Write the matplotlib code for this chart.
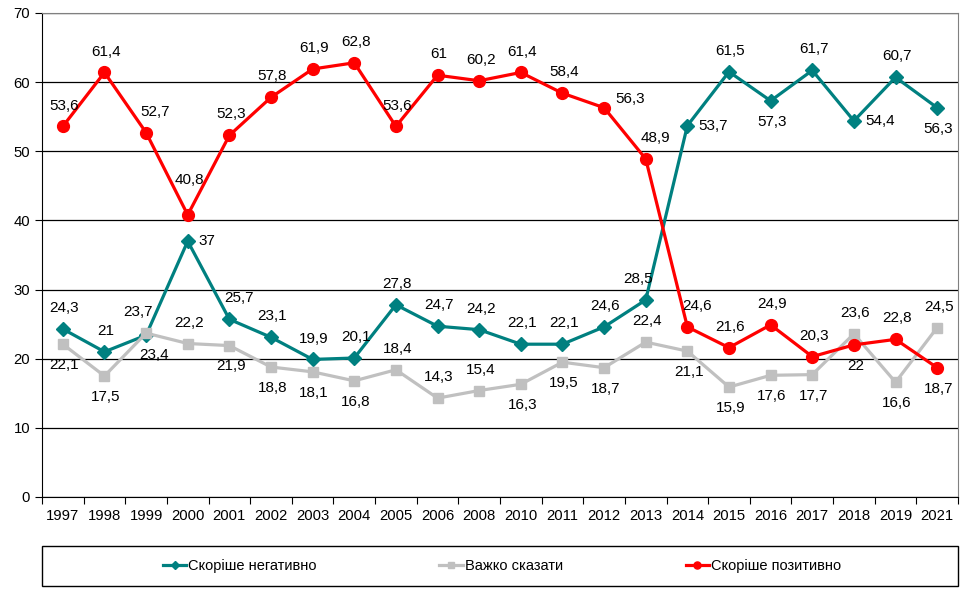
import matplotlib.pyplot as plt
from matplotlib.patches import Rectangle

# Роки опитування
years = ['1997', '1998', '1999', '2000', '2001', '2002', '2003', '2004', '2005', '2006', '2008',
         '2010', '2011', '2012', '2013', '2014', '2015', '2016', '2017', '2018', '2019', '2021']

negative = [24.3, 21, 23.4, 37, 25.7, 23.1, 19.9, 20.1, 27.8, 24.7, 24.2,
            22.1, 22.1, 24.6, 28.5, 53.7, 61.5, 57.3, 61.7, 54.4, 60.7, 56.3]
hard = [22.1, 17.5, 23.7, 22.2, 21.9, 18.8, 18.1, 16.8, 18.4, 14.3, 15.4,
        16.3, 19.5, 18.7, 22.4, 21.1, 15.9, 17.6, 17.7, 23.6, 16.6, 24.5]
positive = [53.6, 61.4, 52.7, 40.8, 52.3, 57.8, 61.9, 62.8, 53.6, 61, 60.2,
            61.4, 58.4, 56.3, 48.9, 24.6, 21.6, 24.9, 20.3, 22, 22.8, 18.7]

# розташування підписів: a - зверху, A - високо зверху, b - знизу, r - праворуч,
# l - ліворуч-зверху, q - праворуч-зверху, p - праворуч трохи вище, y - праворуч-знизу
neg_pos = list('aayrqaaaaaaaaalrabarab')
hard_pos = list('bblabbbbaaabbbabbbbaba')
pos_pos = list('aaqA' + 'aaaaaaaaa' + 'pqqaaabab')

plt.rcParams['font.family'] = ['Liberation Sans', 'DejaVu Sans']

fig = plt.figure(figsize=(9.73, 5.98), dpi=100)
ax = fig.add_axes([42 / 973, 101 / 598, 916 / 973, 484 / 598])

x = list(range(len(years)))
series = [
    ('Скоріше негативно', negative, '#008080', 'D', 7, neg_pos),
    ('Важко сказати', hard, '#C0C0C0', 's', 7, hard_pos),
    ('Скоріше позитивно', positive, '#FF0000', 'o', 8.5, pos_pos),
]

offsets = {'a': (1, 10, 'center', 'bottom'), 'A': (1, 20, 'center', 'bottom'),
           'b': (1, -10, 'center', 'top'), 'r': (8, 0, 'left', 'center'),
           'l': (5, 10, 'right', 'bottom'), 'q': (-4, 10, 'left', 'bottom'),
           'p': (8, 1, 'left', 'bottom'), 'y': (-5, -9, 'left', 'top')}

for name, vals, col, mk, ms, poss in series:
    ax.plot(x, vals, color=col, lw=2.3, marker=mk, ms=ms, label=name, zorder=3)
    for xi, v, p in zip(x, vals, poss):
        dx, dy, ha, va = offsets[p]
        ax.annotate(f'{v:g}'.replace('.', ','), (xi, v), xytext=(dx, dy), textcoords='offset points',
                    ha=ha, va=va, fontsize=11, zorder=4)

ax.set_ylim(0, 70)
ax.set_yticks(range(0, 71, 10))
ax.set_xlim(-0.5, len(years) - 0.5)
ax.set_xticks([i - 0.5 for i in range(len(years) + 1)])
ax.set_xticklabels([])
ax.set_xticks(x, minor=True)
ax.set_xticklabels(years, minor=True)
ax.tick_params(axis='x', which='minor', length=0, pad=9, labelsize=10.7)
ax.tick_params(axis='x', which='major', length=5, direction='out')
ax.tick_params(axis='y', length=5, direction='out', labelsize=10.7)
ax.yaxis.grid(True, color='black', lw=0.9)
ax.set_axisbelow(True)
for s in ['top', 'right']:
    ax.spines[s].set_color('#808080')

# рамка легенди
fig.patches.append(Rectangle((42 / 973, 12 / 598), 916 / 973, 40 / 598, transform=fig.transFigure,
                             fill=False, edgecolor='black', lw=1))
fig.legend(loc='center', bbox_to_anchor=(0.516, 32 / 598), ncol=3, frameon=False,
           prop={'size': 10.5}, handlelength=1.6, handletextpad=0.15, columnspacing=8.4,
           markerscale=0.6)

fig.savefig('out.png', dpi=100)
